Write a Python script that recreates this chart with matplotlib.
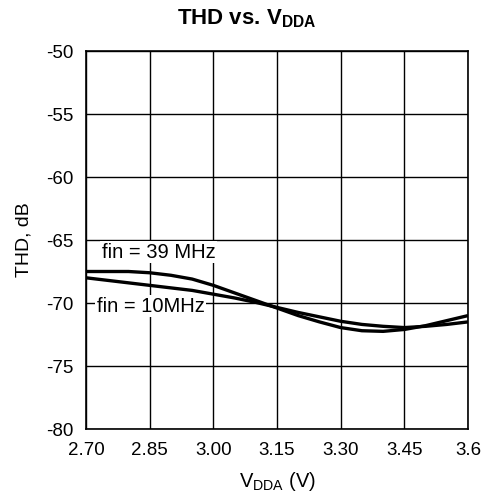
import matplotlib
matplotlib.use("Agg")
import matplotlib.pyplot as plt

vdda = [2.70, 2.75, 2.80, 2.85, 2.90, 2.95, 3.00, 3.05, 3.10, 3.15,
        3.20, 3.25, 3.30, 3.35, 3.40, 3.45, 3.50, 3.55, 3.60]
thd_39mhz = [-67.5, -67.5, -67.5, -67.6, -67.8, -68.1, -68.6, -69.2, -69.8, -70.4,
             -71.0, -71.5, -71.95, -72.2, -72.25, -72.1, -71.8, -71.4, -71.0]
thd_10mhz = [-68.0, -68.2, -68.4, -68.6, -68.8, -69.0, -69.3, -69.6, -69.95, -70.35,
             -70.75, -71.1, -71.45, -71.7, -71.85, -71.95, -71.85, -71.7, -71.5]

x_ticks = [2.70, 2.85, 3.00, 3.15, 3.30, 3.45, 3.60]
x_tick_labels = ["2.70", "2.85", "3.00", "3.15", "3.30", "3.45", "3.6"]
y_ticks = [-80, -75, -70, -65, -60, -55, -50]

plt.rcParams['font.family'] = ['Liberation Sans', 'DejaVu Sans']
plt.rcParams['axes.unicode_minus'] = False
plt.rcParams['mathtext.fontset'] = 'custom'
plt.rcParams['mathtext.rm'] = 'Liberation Sans'
plt.rcParams['mathtext.bf'] = 'Liberation Sans:bold'

FS = 13.5

fig = plt.figure(figsize=(4.89, 5.01), dpi=100)
ax = fig.add_axes([0.176, 0.1437, 0.781, 0.7545])

ax.plot(vdda, thd_39mhz, color='black', lw=2.4, solid_capstyle='butt', zorder=3)
ax.plot(vdda, thd_10mhz, color='black', lw=2.4, solid_capstyle='butt', zorder=3)

ax.set_xlim(2.70, 3.60)
ax.set_ylim(-80, -50)
ax.set_xticks(x_ticks)
ax.set_xticklabels(x_tick_labels)
ax.set_yticks(y_ticks)
ax.tick_params(axis='x', length=0, labelsize=FS, pad=9, colors='black')
ax.tick_params(axis='y', length=0, labelsize=FS, pad=9, colors='black')
ax.grid(True, color='black', lw=1.0)
ax.set_axisbelow(True)
for s in ax.spines.values():
    s.set_linewidth(1.2)

ax.text(2.737, -65.98, "fin = 39 MHz", fontsize=FS + 1, va='center', ha='left',
        bbox=dict(facecolor='white', edgecolor='none', pad=1), zorder=4)
ax.text(2.725, -70.26, "fin = 10MHz", fontsize=FS + 1, va='center', ha='left',
        bbox=dict(facecolor='white', edgecolor='none', pad=1), zorder=4)

ax.set_ylabel("THD, dB", fontsize=14)
ax.yaxis.set_label_coords(-0.14, 0.5)
ax.set_xlabel(r"V$_{\mathregular{DDA}}$ (V)", fontsize=14.5)
ax.xaxis.set_label_coords(0.5, -0.108)

fig.text(0.505, 0.962, r"THD vs. V$_{\mathbf{DDA}}$", fontsize=16, fontweight='bold',
         ha='center', va='center')

fig.savefig("out.png", dpi=100)
